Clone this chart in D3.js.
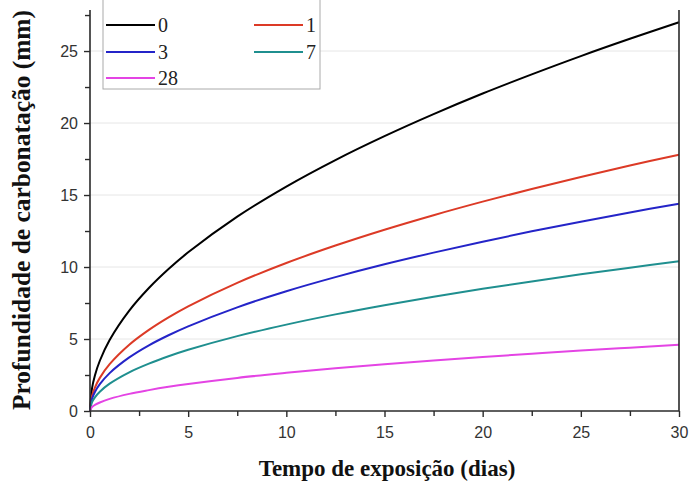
<!DOCTYPE html>
<html><head><meta charset="utf-8">
<script src="https://cdn.jsdelivr.net/npm/d3@7"></script>
<style>body{margin:0;background:#fff}svg{display:block}</style>
</head><body><svg id="c" width="690" height="483"></svg>
<script>
const tDays = [0, 0.1, 0.25, 0.5, 1, 2, 3, 4, 5, 7.5, 10, 12.5, 15, 17.5, 20, 22.5, 25, 27.5, 30];
const s0  = [0, 1.56, 2.47, 3.49, 4.93, 6.97, 8.54, 9.86, 11.02, 13.5, 15.59, 17.43, 19.09, 20.62, 22.05, 23.38, 24.65, 25.85, 27.0];
const s1  = [0, 1.03, 1.63, 2.3, 3.25, 4.6, 5.63, 6.5, 7.27, 8.9, 10.28, 11.49, 12.59, 13.6, 14.54, 15.42, 16.25, 17.05, 17.8];
const s3  = [0, 0.83, 1.32, 1.86, 2.63, 3.72, 4.56, 5.26, 5.88, 7.2, 8.32, 9.3, 10.19, 11.0, 11.76, 12.48, 13.15, 13.79, 14.4];
const s7  = [0, 0.6, 0.95, 1.34, 1.9, 2.69, 3.29, 3.8, 4.25, 5.2, 6.0, 6.71, 7.35, 7.94, 8.49, 9.0, 9.49, 9.95, 10.4];
const s28 = [0, 0.27, 0.42, 0.59, 0.84, 1.19, 1.45, 1.68, 1.88, 2.3, 2.65, 2.97, 3.25, 3.51, 3.75, 3.98, 4.2, 4.4, 4.6];
const seriesNames = ["0", "1", "3", "7", "28"];
const seriesColors = ["#000000", "#dc3a26", "#2424c8", "#1f8f8f", "#e444e4"];
const seriesValues = [s0, s1, s3, s7, s28];
const xTicks = [0, 5, 10, 15, 20, 25, 30];
const yTicks = [0, 5, 10, 15, 20, 25];
const xTitle = "Tempo de exposição (dias)";
const yTitle = "Profundidade de carbonatação (mm)";

const svg = d3.select("#c");
const L = 90, R = 679, T = 10, B = 411;
const x = d3.scaleLinear().domain([0, 30]).range([L, R]);
const y = d3.scaleLinear().domain([0, 27.85]).range([B, T]);

// gridlines
svg.append("g").selectAll("line").data(yTicks.filter(d => d > 0)).join("line")
  .attr("x1", L).attr("x2", R).attr("y1", d => y(d)).attr("y2", d => y(d))
  .attr("stroke", "#e6e6e6").attr("stroke-width", 1);

// curves
const line = d3.line().x((d, i) => x(tDays[i])).y(d => y(d)).curve(d3.curveCatmullRom.alpha(0.5));
seriesValues.forEach((vals, k) => {
  svg.append("path").attr("d", line(vals)).attr("fill", "none")
    .attr("stroke", seriesColors[k]).attr("stroke-width", 2);
});

// axes
const axCol = "#2a2a2a";
const gx = svg.append("g").attr("transform", `translate(0,${B})`)
  .call(d3.axisBottom(x).tickValues(xTicks).tickSize(6).tickPadding(10).tickFormat(d3.format("d")));
svg.append("g").attr("transform", `translate(0,${B})`)
  .call(d3.axisBottom(x).tickValues(d3.range(2.5, 30, 5)).tickSize(5).tickFormat(""))
  .call(g => g.select(".domain").remove());
const gy = svg.append("g").attr("transform", `translate(${L},0)`)
  .call(d3.axisLeft(y).tickValues(yTicks).tickSize(6).tickPadding(6).tickFormat(d3.format("d")));
svg.append("g").attr("transform", `translate(${L},0)`)
  .call(d3.axisLeft(y).tickValues(d3.range(2.5, 28, 5)).tickSize(5).tickFormat(""))
  .call(g => g.select(".domain").remove());
svg.selectAll(".domain").attr("stroke", axCol).attr("stroke-width", 1.6);
svg.selectAll(".tick line").attr("stroke", axCol).attr("stroke-width", 1.4);
svg.selectAll(".tick text").attr("font-family", "Liberation Sans, Arial, sans-serif")
  .attr("font-size", 16).attr("fill", "#333");
gx.select(".domain").attr("d", `M${L},0H${R}`);
gy.select(".domain").attr("d", `M0,${B}V${T}`);
svg.append("line").attr("x1", R).attr("x2", R).attr("y1", T).attr("y2", B)
  .attr("stroke", axCol).attr("stroke-width", 1.6);

// titles
svg.append("text").attr("x", 387).attr("y", 476).attr("text-anchor", "middle")
  .attr("font-family", "Liberation Serif, Times New Roman, serif").attr("font-weight", "bold")
  .attr("font-size", 23).attr("fill", "#111").text(xTitle);
svg.append("text").attr("transform", "translate(30,210) rotate(-90)").attr("text-anchor", "middle")
  .attr("font-family", "Liberation Serif, Times New Roman, serif").attr("font-weight", "bold")
  .attr("font-size", 25).attr("textLength", 400).attr("lengthAdjust", "spacingAndGlyphs")
  .attr("fill", "#111").text(yTitle);

// legend
const lg = svg.append("g");
lg.append("rect").attr("x", 103).attr("y", -5).attr("width", 217).attr("height", 94)
  .attr("fill", "#fff").attr("stroke", "#aaa").attr("stroke-width", 1);
const pos = [[106, 25], [254, 25], [106, 52], [254, 52], [106, 78]];
seriesNames.forEach((n, k) => {
  const [px, py] = pos[k];
  lg.append("line").attr("x1", px).attr("x2", px + 49).attr("y1", py).attr("y2", py)
    .attr("stroke", seriesColors[k]).attr("stroke-width", 2);
  lg.append("text").attr("x", px + 52).attr("y", py + 7)
    .attr("font-family", "Liberation Serif, Times New Roman, serif").attr("font-size", 20)
    .attr("fill", "#222").text(n);
});
</script></body></html>
